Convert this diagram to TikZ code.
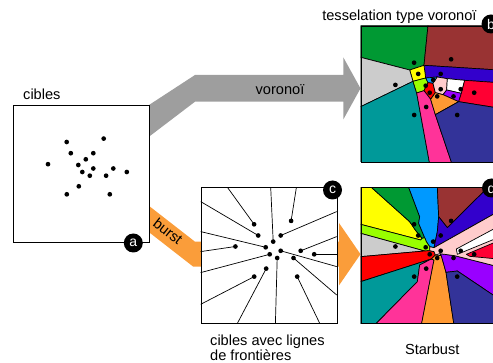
\documentclass[tikz,border=0pt]{standalone}
\usepackage{fontspec}
\setmainfont{Liberation Sans}
\definecolor{vgreen}{RGB}{0,153,51}
\definecolor{vbrown}{RGB}{153,51,51}
\definecolor{vblue}{RGB}{51,0,204}
\definecolor{vgray}{RGB}{204,204,204}
\definecolor{vyellow}{RGB}{255,255,0}
\definecolor{vlime}{RGB}{153,255,0}
\definecolor{vcyan}{RGB}{0,153,255}
\definecolor{vlpink}{RGB}{255,204,204}
\definecolor{vred}{RGB}{255,0,0}
\definecolor{vredb}{RGB}{255,0,51}
\definecolor{vpurple}{RGB}{153,0,255}
\definecolor{vorange}{RGB}{255,153,51}
\definecolor{vhpink}{RGB}{255,51,153}
\definecolor{vteal}{RGB}{0,153,153}
\definecolor{vnavy}{RGB}{51,51,153}
\definecolor{arrgray}{RGB}{158,158,158}
\definecolor{arrorange}{RGB}{250,157,58}
\begin{document}
\begin{tikzpicture}[x=1pt,y=-1pt,
  cell/.style={draw=black,line width=0.7pt,line join=round},
  boxnode/.style={draw=black,line width=1pt,inner sep=0pt,anchor=north west,minimum width=136pt,minimum height=136pt},
  lab/.style={circle,fill=black,text=white,inner sep=0pt,minimum size=19pt,font=\fontsize{14}{14}\selectfont},
  txt/.style={font=\fontsize{14.6}{15}\selectfont,inner sep=0pt},
  fline/.style={draw=black,line width=0.7pt}]
\path[use as bounding box] (0,0) rectangle (493,363);
\clip (0,0) rectangle (493,363);

% arrows
\fill[arrgray] (149,105) -- (195,75) -- (343.3,75) -- (343.3,57.3) -- (360.5,88.4) -- (343.3,119.5) -- (343.3,101.7) -- (195,101.7) -- (149,136.7) -- cycle;
\fill[arrorange] (140,198.9) -- (195,241.7) -- (339,241.7) -- (339,223) -- (360.5,254.2) -- (339,285.4) -- (339,266.7) -- (193.3,266.7) -- (140,225.2) -- cycle;

% box a
\node[boxnode,fill=white,minimum width=135.7pt,minimum height=136.7pt] (A) at (13.3,105) {};
\begin{scope}[xshift=13.3pt,yshift=-105pt]
\foreach \p in {(53.4,37),(90.4,33.6),(57.5,48.2),(80,48.2),(72.5,54.3),(34.7,59.2),(65,60),(80,63.5),(100,63.5),(113.5,67),(69,67),(76.5,70.7),(92.8,70.7),(65.5,81.3),(53.5,89.3),(96.5,89.3)}
  \fill \p circle (2.35);
\end{scope}

% box c
\node[boxnode,fill=white] (C) at (200.7,187.3) {};
\begin{scope}[xshift=200.7pt,yshift=-187.3pt]
\coordinate (c1) at (53.4,37);   \coordinate (e1) at (26.7,0);
\coordinate (c2) at (90.4,33.6); \coordinate (e2) at (95.7,0);
\coordinate (c3) at (57.5,48.2); \coordinate (e3) at (0,14.3);
\coordinate (c4) at (80,48.2);   \coordinate (e4) at (136,24.3);
\coordinate (c5) at (72.5,54.3); \coordinate (e5) at (70,0);
\coordinate (c6) at (34.7,59.2); \coordinate (e6) at (0,64.3);
\coordinate (c7) at (65,60);     \coordinate (e7) at (0,44.3);
\coordinate (c8) at (80,63.5);   \coordinate (e8) at (136,79.3);
\coordinate (c9) at (100,63.5);  \coordinate (e9) at (136,49.3);
\coordinate (c10) at (113.5,67); \coordinate (e10) at (136,67);
\coordinate (c11) at (69,67);    \coordinate (e11) at (0,85.3);
\coordinate (c12) at (76.5,70.7);\coordinate (e12) at (74.7,136);
\coordinate (c13) at (92.8,70.7);\coordinate (e13) at (136,107.7);
\coordinate (c14) at (65.5,81.3);\coordinate (e14) at (36.7,136);
\coordinate (c15) at (53.5,89.3);\coordinate (e15) at (0,117);
\coordinate (c16) at (96.5,89.3);\coordinate (e16) at (119,136);
\foreach \i in {1,...,16} {
  \draw[fline] (c\i) -- (e\i);
  \fill (c\i) circle (2.35);
}
\end{scope}

% box b : voronoi
\begin{scope}[xshift=358pt,yshift=-24pt,x=0.33333pt,y=-0.33333pt]
\clip (8,5) rectangle (416,413);
\draw[cell,fill=vgreen] (8,5) -- (210,5) -- (198,124) -- (155,138) -- (8,100) -- cycle;
\draw[cell,fill=vbrown] (210,5) -- (420,5) -- (420,138) -- (198,124) -- cycle;
\draw[cell,fill=vblue] (198,124) -- (420,138) -- (420,176) -- (320,169) -- (268,164) -- (238,159) -- (203,162) -- cycle;
\draw[cell,fill=vyellow] (155,138) -- (198,124) -- (203,162) -- (165,172) -- cycle;
\draw[cell,fill=vgray] (8,100) -- (155,138) -- (165,172) -- (8,248) -- cycle;
\draw[cell,fill=vteal] (8,248) -- (165,172) -- (176,207) -- (215,420) -- (8,420) -- cycle;
\draw[cell,fill=vlime] (165,172) -- (203,162) -- (210,176) -- (198,200) -- (176,207) -- cycle;
\draw[cell,fill=vcyan] (203,162) -- (238,159) -- (225,178) -- (210,176) -- cycle;
\draw[cell,fill=vred] (198,200) -- (210,176) -- (225,178) -- (232,206) -- (218,226) -- cycle;
\draw[cell,fill=vhpink] (176,207) -- (198,200) -- (218,226) -- (232,272) -- (282,420) -- (215,420) -- cycle;
\draw[cell,fill=vlpink] (238,159) -- (268,164) -- (266,198) -- (255,212) -- (232,206) -- (225,178) -- cycle;
\draw[cell,fill=white] (268,164) -- (320,169) -- (310,208) -- (266,198) -- cycle;
\draw[cell,fill=vpurple] (255,212) -- (266,198) -- (310,208) -- (302,233) -- cycle;
\draw[cell,fill=vorange] (232,206) -- (255,212) -- (302,233) -- (232,272) -- (218,226) -- cycle;
\draw[cell,fill=vredb] (320,169) -- (420,176) -- (420,252) -- (302,233) -- (310,208) -- cycle;
\draw[cell,fill=vnavy] (232,272) -- (302,233) -- (420,252) -- (420,420) -- (282,420) -- cycle;
\end{scope}
\node[boxnode] (B) at (360.7,25.7) {};
\begin{scope}[xshift=360.7pt,yshift=-25.7pt]
\foreach \p in {(53.4,37),(90.4,33.6),(57.5,48.2),(80,48.2),(72.5,54.3),(34.7,59.2),(65,60),(80,63.5),(100,63.5),(113.5,67),(69,67),(76.5,70.7),(92.8,70.7),(65.5,81.3),(53.5,89.3),(96.5,89.3)}
  \fill \p circle (2.35);
\end{scope}

% box d : starbust
\begin{scope}[xshift=358pt,yshift=-185pt,x=0.33333pt,y=-0.33333pt]
\clip (8,7) rectangle (416,415);
\draw[cell,fill=vyellow] (8,7) -- (40,7) -- (155,110) -- (172,135) -- (192,160) -- (188,165) -- (8,118) -- cycle;
\draw[cell,fill=vgreen] (40,7) -- (152,7) -- (185,95) -- (182,115) -- (200,158) -- (192,160) -- (172,135) -- (155,110) -- cycle;
\draw[cell,fill=vcyan] (152,7) -- (238,7) -- (242,95) -- (238,140) -- (228,188) -- (215,185) -- (205,170) -- (200,158) -- (182,115) -- (185,95) -- cycle;
\draw[cell,fill=vbrown] (238,7) -- (390,7) -- (268,128) -- (242,95) -- cycle;
\draw[cell,fill=vblue] (390,7) -- (420,7) -- (420,80) -- (228,188) -- (238,140) -- (242,95) -- (268,128) -- cycle;
\draw[cell,fill=vlime] (8,118) -- (188,165) -- (192,160) -- (200,158) -- (205,170) -- (215,185) -- (215,197) -- (200,198) -- (8,145) -- cycle;
\draw[cell,fill=vgray] (8,145) -- (200,198) -- (8,215) -- cycle;
\draw[cell,fill=vred] (8,215) -- (200,198) -- (215,197) -- (228,200) -- (232,210) -- (220,222) -- (8,290) -- cycle;
\draw[cell,fill=vteal] (8,290) -- (220,222) -- (185,240) -- (178,290) -- (50,420) -- (8,420) -- cycle;
\draw[cell,fill=vhpink] (220,222) -- (228,225) -- (190,420) -- (50,420) -- (178,290) -- (185,240) -- cycle;
\draw[cell,fill=vorange] (232,210) -- (250,212) -- (264,262) -- (288,420) -- (190,420) -- (228,225) -- (220,222) -- cycle;
\draw[cell,fill=vpurple] (250,212) -- (245,206) -- (290,212) -- (420,245) -- (420,340) -- (298,258) -- (264,262) -- cycle;
\draw[cell,fill=vnavy] (264,262) -- (298,258) -- (420,340) -- (420,420) -- (288,420) -- cycle;
\draw[cell,fill=vlpink] (228,188) -- (420,80) -- (420,245) -- (290,212) -- (245,206) -- (232,210) -- (228,200) -- (215,197) -- (215,185) -- cycle;
\draw[cell,fill=white] (295,192) -- (420,125) -- (420,158) -- (298,208) -- cycle;
\draw[cell,fill=vredb] (325,208) -- (420,168) -- (420,222) -- (335,214) -- cycle;
\end{scope}
\node[boxnode] (D) at (360.7,187.3) {};
\begin{scope}[xshift=360.7pt,yshift=-187.3pt]
\foreach \p in {(53.4,37),(90.4,33.6),(57.5,48.2),(80,48.2),(72.5,54.3),(34.7,59.2),(65,60),(80,63.5),(100,63.5),(113.5,67),(69,67),(76.5,70.7),(92.8,70.7),(65.5,81.3),(53.5,89.3),(96.5,89.3)}
  \fill \p circle (2.35);
\end{scope}

% letter circles
\node[lab] (la) at (133.3,243) {a};
\node[lab] (lb) at (491,24) {b};
\node[lab] (lc) at (332.5,190) {c};
\node[lab] (ld) at (491.5,188) {d};

% texts
\node[txt,anchor=base west] (tcib) at (23,99.5) {cibles};
\node[txt,anchor=base east] (ttess) at (476.7,20.5) {tesselation type voronoï};
\node[txt,anchor=base] (tvor) at (280,95) {voronoï};
\node[txt,rotate=-38] (tburst) at (168,231) {burst};
\node[txt,anchor=base west] (tcav1) at (210,345.5) {cibles avec lignes};
\node[txt,anchor=base west] (tcav2) at (210,360.5) {de frontières};
\node[txt,anchor=base] (tstar) at (432.2,355) {Starbust};
\end{tikzpicture}
\end{document}
